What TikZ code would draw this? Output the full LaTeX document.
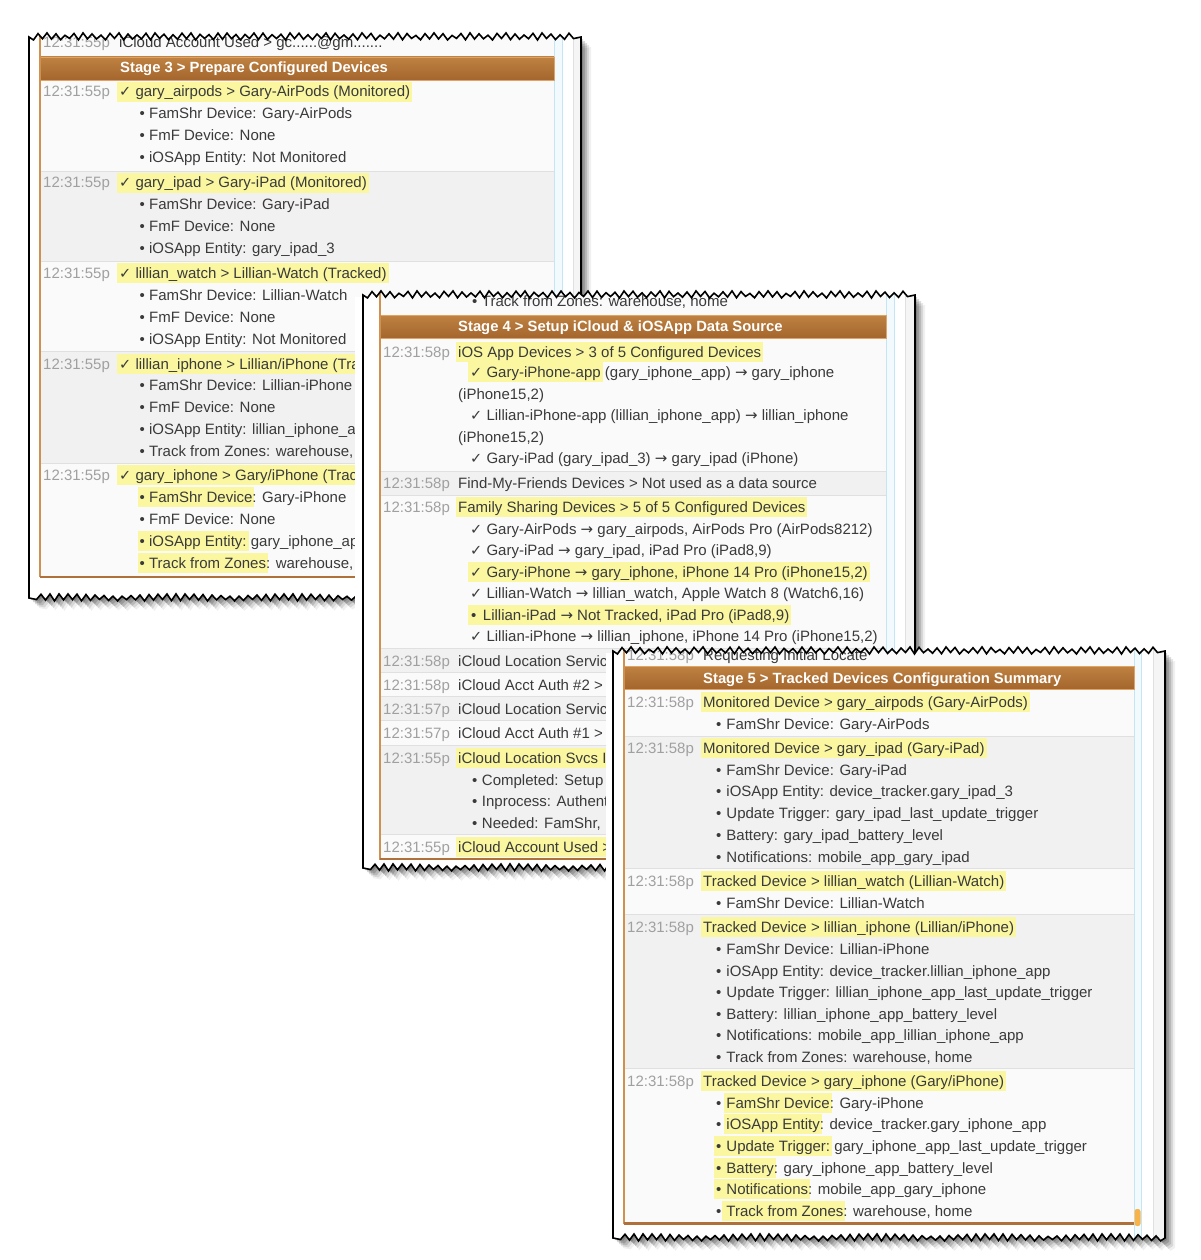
\documentclass[tikz,border=0pt]{standalone}
\usepackage{fontspec}
\setmainfont{Liberation Sans}
\newfontfamily\symfont{DejaVu Sans}
\definecolor{hlc}{HTML}{FAF7A0}
\definecolor{txc}{HTML}{3A3A3A}
\definecolor{tsc}{HTML}{A0A0A0}
\definecolor{rowa}{HTML}{FAFAFA}
\definecolor{rowb}{HTML}{F1F1F1}
\definecolor{sepc}{HTML}{E0E0E0}
\definecolor{hdtop}{HTML}{BF8242}
\definecolor{hdbot}{HTML}{A3652C}
\definecolor{hdline}{HTML}{DFA464}
\definecolor{orl}{HTML}{D0904F}
\definecolor{orb}{HTML}{B0703A}
\definecolor{bll}{HTML}{C4E5F4}
\definecolor{blf}{HTML}{F3FAFD}
\definecolor{scb}{HTML}{F7B24A}
\definecolor{outg}{HTML}{F5F5F5}
\newcommand\chk{{\symfont\fontsize{14.5}{16}\selectfont ✓}}
\newcommand\rarr{{\symfont →}}
\newcommand\hlt[1]{{\setlength\fboxsep{2pt}\kern-2pt\colorbox{hlc}{\rule[-2.6pt]{0pt}{16pt}#1}\kern-2pt}}
\newcommand\torn[4]{(#1,#2)
 \foreach \i in {1,...,\nn} { -- ({#1+4.5*\i},{#2+mod(\i,2)*(2.2+0.8*sin(\i*71))-(1-mod(\i,2))*(1.5+2.6*abs(sin(\i*113)))}) }
 -- (#3,#2) -- (#3,#4)
 \foreach \i in {1,...,\nn} { -- ({#3-4.5*\i},{#4+mod(\i,2)*(2.2+0.8*sin(\i*53))-(1-mod(\i,2))*(1.5+2.6*abs(sin(\i*97)))}) }
 -- (#1,#4) -- cycle}
\newcommand\RowT[4]{\node[ts] (#1t) at (\tsx,#2+5) {#3}; \node[tx] (#1) at (\txx,#2+5) {#4};}
\newcommand\SubT[4]{\node[tx] (#1) at (#2,#3+5) {#4};}
\newcommand\shadowof[4]{\foreach \s/\o in {2/0.16,4/0.16,6/0.14,8/0.10,10/0.06}{\fill[black,opacity=\o,shift={(\s,\s)}] \torn{#1}{#2}{#3}{#4};}}
\tikzset{
 tx/.style={anchor=base west, inner sep=0pt, text=txc, font=\fontsize{15}{18}\selectfont},
 ts/.style={tx, text=tsc},
 hd/.style={anchor=base west, inner sep=0pt, text=white, font=\bfseries\fontsize{14.8}{17}\selectfont},
 border/.style={draw=black, line width=1.6pt, line join=miter},
 sepline/.style={draw=sepc, line width=0.8pt},
}
\begin{document}
\begin{tikzpicture}[x=1pt,y=-1pt]
\useasboundingbox (0,0) rectangle (1200,1260);
\fill[white] (0,0) rectangle (1200,1260);

%================ PANEL 1 ================
\pgfmathtruncatemacro\nn{(581-29)/4.5-1}
\shadowof{29}{37}{581}{598}
\fill[white] \torn{29}{37}{581}{598};
\begin{scope}
\clip \torn{29}{37}{581}{598};
\fill[blf] (554,20) rectangle (562,610);
\draw[bll] (554,20) -- (554,610);
\draw[bll] (562,20) -- (562,610);
\fill[outg] (573,20) rectangle (581,610);
\draw[sepc] (573,20) -- (573,610);
\fill[rowa] (40,20) rectangle (554,57);
\fill[rowa] (40,81) rectangle (554,171.5);
\fill[rowb] (40,171.5) rectangle (554,261.5);
\fill[rowa] (40,261.5) rectangle (554,351.5);
\fill[rowb] (40,351.5) rectangle (554,463.5);
\fill[rowa] (40,463.5) rectangle (554,576);
\foreach \yy in {171.5,261.5,351.5,463.5} {\draw[sepline] (40,\yy) -- (554,\yy);}
\shade[top color=hdtop, bottom color=hdbot] (40,57) rectangle (554,80.5);
\draw[hdline, line width=0.8pt] (40,57) rectangle (554,80.5);
\draw[orl, line width=1.6pt] (40,20) -- (40,577);
\draw[orb, line width=2pt] (40,576.5) -- (554,576.5);
\def\tsx{43}\def\txx{119}
\RowT{p1a}{43}{12:31:55p}{iCloud Account Used > gc......@gm.......}
\node[hd] (p1h) at (120,73) {Stage 3 > Prepare Configured Devices};
\RowT{p1r1}{92}{12:31:55p}{\hlt{\chk\ gary\_airpods > Gary-AirPods (Monitored)}}
\SubT{p1r1a}{139.5}{114}{• FamShr Device: Gary-AirPods}
\SubT{p1r1b}{139.5}{136}{• FmF Device: None}
\SubT{p1r1c}{139.5}{158}{• iOSApp Entity: Not Monitored}
\RowT{p1r2}{183}{12:31:55p}{\hlt{\chk\ gary\_ipad > Gary-iPad (Monitored)}}
\SubT{p1r2a}{139.5}{204}{• FamShr Device: Gary-iPad}
\SubT{p1r2b}{139.5}{226}{• FmF Device: None}
\SubT{p1r2c}{139.5}{248}{• iOSApp Entity: gary\_ipad\_3}
\RowT{p1r3}{273}{12:31:55p}{\hlt{\chk\ lillian\_watch > Lillian-Watch (Tracked)}}
\SubT{p1r3a}{139.5}{295}{• FamShr Device: Lillian-Watch}
\SubT{p1r3b}{139.5}{317}{• FmF Device: None}
\SubT{p1r3c}{139.5}{339}{• iOSApp Entity: Not Monitored}
\RowT{p1r4}{364}{12:31:55p}{\hlt{\chk\ lillian\_iphone > Lillian/iPhone (Tracked)}}
\SubT{p1r4a}{139.5}{385}{• FamShr Device: Lillian-iPhone}
\SubT{p1r4b}{139.5}{407}{• FmF Device: None}
\SubT{p1r4c}{139.5}{429}{• iOSApp Entity: lillian\_iphone\_app}
\SubT{p1r4d}{139.5}{451}{• Track from Zones: warehouse, home}
\RowT{p1r5}{475}{12:31:55p}{\hlt{\chk\ gary\_iphone > Gary/iPhone (Tracked)}}
\SubT{p1r5a}{139.5}{497}{\hlt{• FamShr Device}: Gary-iPhone}
\SubT{p1r5b}{139.5}{519}{• FmF Device: None}
\SubT{p1r5c}{139.5}{541}{\hlt{• iOSApp Entity:} gary\_iphone\_app}
\SubT{p1r5d}{139.5}{563}{\hlt{• Track from Zones}: warehouse, home}
\end{scope}
\draw[border] \torn{29}{37}{581}{598};

%================ PANEL 2 ================
\fill[white] (354.5,297) rectangle (364,874);
\pgfmathtruncatemacro\nn{(915-363)/4.5-1}
\shadowof{363}{295}{915}{868}
\fill[white] \torn{363}{295}{915}{868};
\begin{scope}
\clip \torn{363}{295}{915}{868};
\fill[blf] (886,280) rectangle (894,880);
\draw[bll] (886,280) -- (886,880);
\draw[bll] (894,280) -- (894,880);
\fill[outg] (905,280) rectangle (915,880);
\draw[sepc] (905,280) -- (905,880);
\fill[rowa] (380,280) rectangle (886,315);
\fill[rowa] (380,338.5) rectangle (886,471);
\fill[rowb] (380,471) rectangle (886,495);
\fill[rowa] (380,495) rectangle (886,648);
\fill[rowb] (380,648) rectangle (886,672);
\fill[rowa] (380,672) rectangle (886,696);
\fill[rowb] (380,696) rectangle (886,720.5);
\fill[rowa] (380,720.5) rectangle (886,745);
\fill[rowb] (380,745) rectangle (886,834);
\fill[rowa] (380,834) rectangle (886,858.5);
\foreach \yy in {471,495,648,672,696,720.5,745,834} {\draw[sepline] (380,\yy) -- (886,\yy);}
\shade[top color=hdtop, bottom color=hdbot] (380,315) rectangle (886,338.5);
\draw[hdline, line width=0.8pt] (380,315) rectangle (886,338.5);
\draw[orl, line width=1.6pt] (380,280) -- (380,860);
\draw[orb, line width=2pt] (380,859) -- (886,859);
\def\tsx{383}\def\txx{458}
\SubT{p2a}{472}{301}{•\kern4.5pt Track from Zones: warehouse, home}
\node[hd] (p2h) at (458,331) {Stage 4 > Setup iCloud \& iOSApp Data Source};
\RowT{p2ra}{352}{12:31:58p}{\hlt{iOS App Devices > 3 of 5 Configured Devices}}
\SubT{p2ra1}{470}{372}{\hlt{\chk\ Gary-iPhone-app} (gary\_iphone\_app) \rarr\ gary\_iphone}
\SubT{p2ra2}{458}{394}{(iPhone15,2)}
\SubT{p2ra3}{470}{415}{\chk\ Lillian-iPhone-app (lillian\_iphone\_app) \rarr\ lillian\_iphone}
\SubT{p2ra4}{458}{437}{(iPhone15,2)}
\SubT{p2ra5}{470}{458}{\chk\ Gary-iPad (gary\_ipad\_3) \rarr\ gary\_ipad (iPhone)}
\RowT{p2rb}{483}{12:31:58p}{Find-My-Friends Devices > Not used as a data source}
\RowT{p2rc}{507}{12:31:58p}{\hlt{Family Sharing Devices > 5 of 5 Configured Devices}}
\SubT{p2rc1}{470}{529}{\chk\ Gary-AirPods \rarr\ gary\_airpods, AirPods Pro (AirPods8212)}
\SubT{p2rc2}{470}{550}{\chk\ Gary-iPad \rarr\ gary\_ipad, iPad Pro (iPad8,9)}
\SubT{p2rc3}{470}{572}{\hlt{\chk\ Gary-iPhone \rarr\ gary\_iphone, iPhone 14 Pro (iPhone15,2)}}
\SubT{p2rc4}{470}{593}{\chk\ Lillian-Watch \rarr\ lillian\_watch, Apple Watch 8 (Watch6,16)}
\SubT{p2rc5}{470}{615}{\hlt{\kern1pt•\kern6.5pt Lillian-iPad \rarr\ Not Tracked, iPad Pro (iPad8,9)}}
\SubT{p2rc6}{470}{636}{\chk\ Lillian-iPhone \rarr\ lillian\_iphone, iPhone 14 Pro (iPhone15,2)}
\RowT{p2rd}{661}{12:31:58p}{iCloud Location Servic}
\RowT{p2re}{685}{12:31:58p}{iCloud Acct Auth \#2 >}
\RowT{p2rf}{709}{12:31:57p}{iCloud Location Servic}
\RowT{p2rg}{733}{12:31:57p}{iCloud Acct Auth \#1 >}
\RowT{p2rh}{758}{12:31:55p}{\hlt{iCloud Location Svcs I}}
\SubT{p2rh1}{472}{780}{•\kern4.5pt Completed: Setup}
\SubT{p2rh2}{472}{801}{•\kern4.5pt Inprocess: Authent}
\SubT{p2rh3}{472}{823}{•\kern4.5pt Needed: FamShr, F}
\RowT{p2ri}{847}{12:31:55p}{\hlt{iCloud Account Used >}}
\end{scope}
\draw[border] \torn{363}{295}{915}{868};

%================ PANEL 3 ================
\fill[white] (606,653) rectangle (614,1244);
\pgfmathtruncatemacro\nn{(1165-613)/4.5-1}
\shadowof{613}{651}{1165}{1238}
\fill[white] \torn{613}{651}{1165}{1238};
\begin{scope}
\clip \torn{613}{651}{1165}{1238};
\fill[blf] (1134,640) rectangle (1141,1250);
\draw[bll] (1134,640) -- (1134,1250);
\draw[bll] (1141,640) -- (1141,1250);
\fill[outg] (1153,640) rectangle (1165,1250);
\draw[sepc] (1153,640) -- (1153,1250);
\fill[rowa] (624,640) rectangle (1134,666);
\fill[rowa] (624,689.5) rectangle (1134,736.5);
\fill[rowb] (624,736.5) rectangle (1134,868.5);
\fill[rowa] (624,868.5) rectangle (1134,914.5);
\fill[rowb] (624,914.5) rectangle (1134,1068.5);
\fill[rowa] (624,1068.5) rectangle (1134,1222);
\foreach \yy in {736.5,868.5,914.5,1068.5} {\draw[sepline] (624,\yy) -- (1134,\yy);}
\shade[top color=hdtop, bottom color=hdbot] (624,666) rectangle (1134,689.5);
\draw[hdline, line width=0.8pt] (624,666) rectangle (1134,689.5);
\draw[orl, line width=1.6pt] (624,640) -- (624,1224);
\draw[orb, line width=3pt] (624,1223) -- (1134,1223);
\fill[scb, rounded corners=2.5pt] (1134.5,1209) rectangle (1140.5,1226);
\def\tsx{627}\def\txx{703}
\RowT{p3a}{655}{12:31:58p}{Requesting Initial Locate}
\node[hd] (p3h) at (703,683) {Stage 5 > Tracked Devices Configuration Summary};
\RowT{p3r1}{702}{12:31:58p}{\hlt{Monitored Device > gary\_airpods (Gary-AirPods)}}
\SubT{p3r1a}{716}{724}{•\kern5pt FamShr Device: Gary-AirPods}
\RowT{p3r2}{748}{12:31:58p}{\hlt{Monitored Device > gary\_ipad (Gary-iPad)}}
\SubT{p3r2a}{716}{770}{•\kern5pt FamShr Device: Gary-iPad}
\SubT{p3r2b}{716}{791}{•\kern5pt iOSApp Entity: device\_tracker.gary\_ipad\_3}
\SubT{p3r2c}{716}{813}{•\kern5pt Update Trigger: gary\_ipad\_last\_update\_trigger}
\SubT{p3r2d}{716}{835}{•\kern5pt Battery: gary\_ipad\_battery\_level}
\SubT{p3r2e}{716}{857}{•\kern5pt Notifications: mobile\_app\_gary\_ipad}
\RowT{p3r3}{881}{12:31:58p}{\hlt{Tracked Device > lillian\_watch (Lillian-Watch)}}
\SubT{p3r3a}{716}{903}{•\kern5pt FamShr Device: Lillian-Watch}
\RowT{p3r4}{927}{12:31:58p}{\hlt{Tracked Device > lillian\_iphone (Lillian/iPhone)}}
\SubT{p3r4a}{716}{949}{•\kern5pt FamShr Device: Lillian-iPhone}
\SubT{p3r4b}{716}{971}{•\kern5pt iOSApp Entity: device\_tracker.lillian\_iphone\_app}
\SubT{p3r4c}{716}{992}{•\kern5pt Update Trigger: lillian\_iphone\_app\_last\_update\_trigger}
\SubT{p3r4d}{716}{1014}{•\kern5pt Battery: lillian\_iphone\_app\_battery\_level}
\SubT{p3r4e}{716}{1035}{•\kern5pt Notifications: mobile\_app\_lillian\_iphone\_app}
\SubT{p3r4f}{716}{1057}{•\kern5pt Track from Zones: warehouse, home}
\RowT{p3r5}{1081}{12:31:58p}{\hlt{Tracked Device > gary\_iphone (Gary/iPhone)}}
\SubT{p3r5a}{716}{1103}{•\kern5pt\hlt{FamShr Device}: Gary-iPhone}
\SubT{p3r5b}{716}{1124}{•\kern5pt\hlt{iOSApp Entity}: device\_tracker.gary\_iphone\_app}
\SubT{p3r5c}{716}{1146}{\hlt{•\kern5pt Update Trigger:} gary\_iphone\_app\_last\_update\_trigger}
\SubT{p3r5d}{716}{1168}{\hlt{•\kern5pt Battery}: gary\_iphone\_app\_battery\_level}
\SubT{p3r5e}{716}{1189}{\hlt{•\kern5pt Notifications}: mobile\_app\_gary\_iphone}
\SubT{p3r5f}{716}{1211}{•\kern3pt\hlt{\kern2pt Track from Zones}: warehouse, home}
\end{scope}
\draw[border] \torn{613}{651}{1165}{1238};
\end{tikzpicture}
\end{document}
